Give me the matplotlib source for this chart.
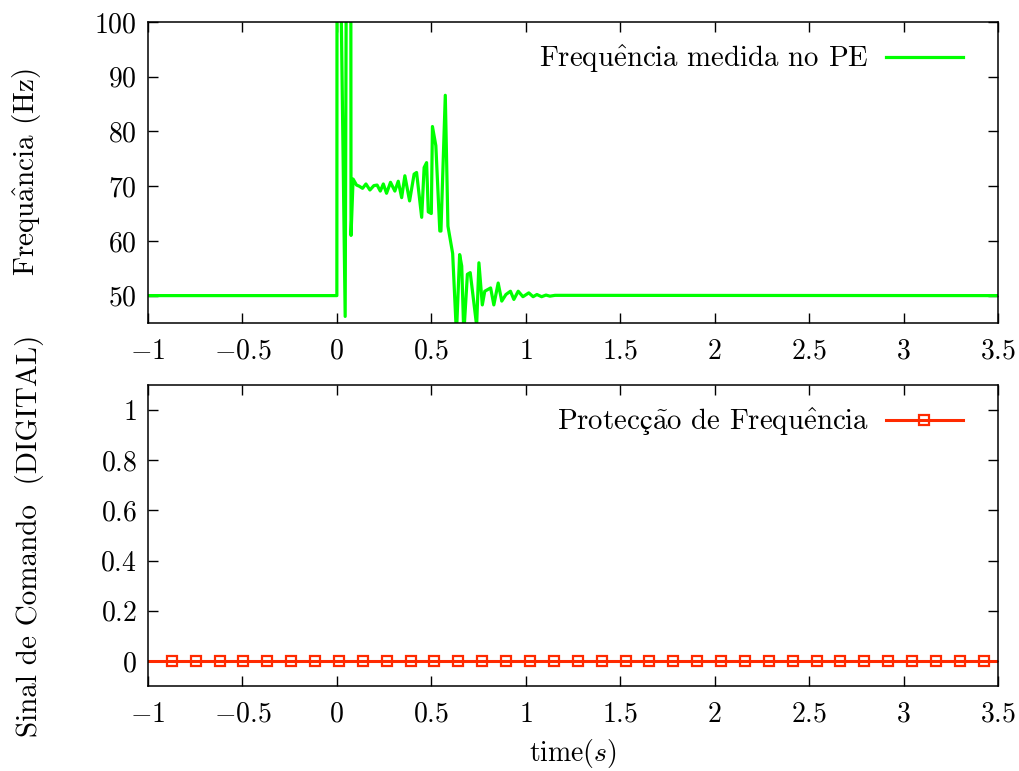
import numpy as np
import matplotlib
matplotlib.use('Agg')
import matplotlib.pyplot as plt
from matplotlib.ticker import FuncFormatter

plt.rcParams['font.family'] = ['cmr10', 'Liberation Serif']
plt.rcParams['mathtext.fontset'] = 'cm'
plt.rcParams['axes.formatter.use_mathtext'] = True
plt.rcParams['font.size'] = 20

# frequencia medida no PE (Hz)
freq_t = [-1.0, 0.0, 0.005, 0.02, 0.044, 0.05, 0.07, 0.075, 0.086,
          0.104, 0.118, 0.136, 0.154, 0.175, 0.196, 0.213, 0.230, 0.246,
          0.263, 0.284, 0.307, 0.325, 0.343, 0.360, 0.385, 0.409, 0.422,
          0.449, 0.462, 0.475, 0.484, 0.500, 0.506, 0.524, 0.545, 0.551,
          0.574, 0.588, 0.613, 0.633, 0.650, 0.661, 0.672, 0.691, 0.706,
          0.740, 0.752, 0.770, 0.783, 0.814, 0.831, 0.854, 0.873, 0.895,
          0.919, 0.937, 0.960, 0.985, 1.016, 1.039, 1.059, 1.084, 1.107,
          1.128, 1.155, 3.5]
freq_v = [50.0, 50.0, 400.0, 110.0, 46.2, 110.0, 300.0, 61.0, 71.3,
          70.2, 70.0, 69.6, 70.4, 69.3, 70.1, 70.2, 69.1, 70.4,
          68.7, 70.7, 69.1, 70.9, 67.9, 71.9, 67.3, 72.2, 72.5,
          64.3, 73.4, 74.3, 65.3, 65.0, 80.9, 77.4, 61.8, 61.8,
          86.6, 62.7, 57.7, 43.0, 57.5, 55.4, 43.0, 53.9, 54.2,
          44.5, 56.0, 48.3, 50.8, 51.4, 48.3, 52.3, 49.0, 50.2,
          50.8, 49.3, 50.8, 49.8, 50.5, 49.8, 50.2, 49.8, 50.1,
          49.9, 50.05, 50.0]

# sinal de comando da proteccao (sempre 0)
cmd_t = np.linspace(-1.0, 3.5, 357)
cmd_v = np.zeros(len(cmd_t))

xticks = [-1, -0.5, 0, 0.5, 1, 1.5, 2, 2.5, 3, 3.5]
fmt = FuncFormatter(lambda v, p: '$%g$' % v)

fig = plt.figure(figsize=(10.19, 7.71), dpi=100)
ax1 = fig.add_axes([0.1452, 0.5811, 0.8342, 0.3904])
ax2 = fig.add_axes([0.1452, 0.1102, 0.8342, 0.3904])

ax1.plot(freq_t, freq_v, color='#00ff00', lw=2.3,
         label='Frequ$\\hat{\\mathrm{e}}$ncia medida no PE')
ax1.set_xlim(-1, 3.5)
ax1.set_ylim(45, 100)
ax1.set_yticks([50, 60, 70, 80, 90, 100])
ax1.set_ylabel('Frequ$\\hat{\\mathrm{a}}$ncia (Hz)', fontsize=21)

ax2.plot(cmd_t, cmd_v, color='#ff2a00', lw=2.2, marker='s', ms=7,
         mfc='none', mew=1.6, markevery=slice(10, 351, 10),
         label='Protec$\\mathrm{ç}\\tilde{\\mathrm{a}}$o de Frequ$\\hat{\\mathrm{e}}$ncia')
ax2.set_xlim(-1, 3.5)
ax2.set_ylim(-0.1, 1.1)
ax2.set_yticks([0, 0.2, 0.4, 0.6, 0.8, 1])
ax2.set_ylabel('Sinal de Comando  (DIGITAL)', fontsize=21)
ax2.set_xlabel('time($s$)', labelpad=7)

for ax in (ax1, ax2):
    ax.set_xticks(xticks)
    ax.xaxis.set_major_formatter(fmt)
    ax.yaxis.set_major_formatter(fmt)
    ax.yaxis.set_label_coords(-0.122, 0.5)
    ax.tick_params(direction='in', length=7, width=1, top=True, right=True)
    ax.tick_params(axis='x', pad=11)
    ax.tick_params(axis='y', pad=8)
    for s in ax.spines.values():
        s.set_linewidth(1.1)
    ax.legend(loc='upper right', bbox_to_anchor=(0.972, 0.968), frameon=False,
              markerfirst=False, handlelength=2.65, handletextpad=0.6,
              borderaxespad=0, fontsize=20.8)

fig.savefig('out.png', dpi=100)
